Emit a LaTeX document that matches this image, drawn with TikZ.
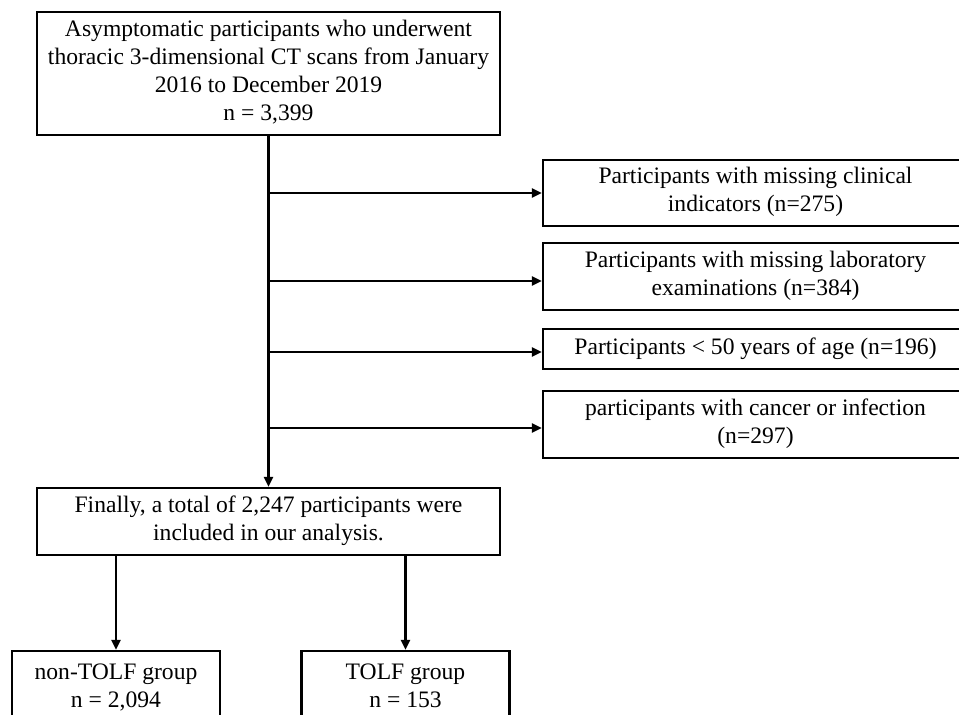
\documentclass[tikz,border=0pt]{standalone}
\usepackage{fontspec}
\setmainfont{Liberation Serif}
\usetikzlibrary{arrows.meta}
\newcommand\flowfont{\fontsize{23.6}{28}\selectfont}
\newcommand\fs{\rule[-6.5pt]{0pt}{21.5pt}}
\tikzset{
  fbox/.style={draw, line width=2.2pt, inner sep=0pt, align=center, font=\flowfont, anchor=center},
  conn/.style={line width=2.2pt, -{Triangle[length=10pt,width=9pt]}}
}
\begin{document}
\begin{tikzpicture}[x=1pt,y=-1pt]
\useasboundingbox (0,0) rectangle (959,715);
\clip (0,0) rectangle (959,715);
\fill[white] (0,0) rectangle (959,715);
\node[fbox, minimum width=463pt, minimum height=123pt] (top) at (268.5,73.5)
  {\fs Asymptomatic participants who underwent\\thoracic 3-dimensional CT scans from January\\2016 to December 2019\\n = 3,399\fs};
\node[fbox, minimum width=425pt, minimum height=66pt] (ex1) at (755.5,193)
  {\fs Participants with missing clinical\\indicators (n=275)\fs};
\node[fbox, minimum width=425pt, minimum height=67pt] (ex2) at (755.5,276.5)
  {\fs Participants with missing laboratory\\examinations (n=384)\fs};
\node[fbox, minimum width=425pt, minimum height=40pt] (ex3) at (755.5,349)
  {\fs Participants < 50 years of age (n=196)\fs};
\node[fbox, minimum width=425pt, minimum height=67pt] (ex4) at (755.5,424.5)
  {\fs participants with cancer or infection\\(n=297)\fs};
\node[fbox, minimum width=463pt, minimum height=67pt] (final) at (268.5,521.5)
  {\fs Finally, a total of 2,247 participants were\\included in our analysis.\fs};
\node[fbox, minimum width=208pt, minimum height=75pt] (non) at (116,688.5)
  {\fs non-TOLF group\\n = 2,094\fs};
\node[fbox, minimum width=208pt, minimum height=75pt] (tolf) at (405.5,688.5)
  {\fs TOLF group\\n = 153\fs};
\coordinate (a1) at (ex1.west);
\coordinate (a2) at ([yshift=-4.5pt]ex2.west);
\coordinate (a3) at ([yshift=-3pt]ex3.west);
\coordinate (a4) at ([yshift=-3.5pt]ex4.west);
\draw[conn] (top.south) -- (final.north);
\foreach \c in {a1,a2,a3,a4}
  \draw[conn] (top.south |- \c) -- (\c);
\draw[conn] (final.south -| non.north) -- (non.north);
\draw[conn] (final.south -| tolf.north) -- (tolf.north);
\end{tikzpicture}
\end{document}
